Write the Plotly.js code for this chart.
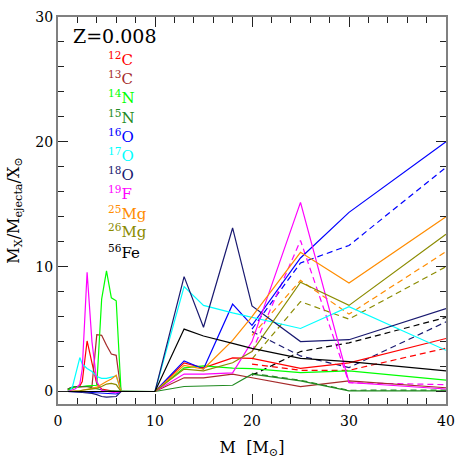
<!DOCTYPE html>
<html>
<head>
<meta charset="utf-8">
<script src="https://cdn.plot.ly/plotly-3.0.1.min.js"></script>
<style>html,body{margin:0;padding:0;background:#fff;}#chart{width:463px;height:463px;}</style>
</head>
<body>
<div id="chart"></div>
<script>
// Initial masses (M_sun)
const massLow  = [1, 1.25, 1.5, 1.75, 2, 2.25, 2.5, 3, 3.5, 4, 4.5, 5, 5.5, 6, 6.5];
const massHigh = [10, 13, 15, 18, 20, 25, 30, 40];
const massHN   = [20, 25, 30, 40];

const isotopes = ['12C','13C','14N','15N','16O','17O','18O','19F','25Mg','26Mg','56Fe'];
const labels = ['<sup>12</sup>C','<sup>13</sup>C','<sup>14</sup>N','<sup>15</sup>N','<sup>16</sup>O','<sup>17</sup>O','<sup>18</sup>O','<sup>19</sup>F','<sup>25</sup>Mg','<sup>26</sup>Mg','<sup>56</sup>Fe'];
const colors = ['#ff0000','#a52a2a','#00ff00','#228b22','#0000ff','#00ffff','#191970','#ff00ff','#ff8c00','#8b8b00','#000000'];

// low-mass (AGB) values
const c12Low  = [0.1, 0.25, 0.3, 0.35, 0.4, 0.45, 0.8, 4.05, 2.3, 0.6, 0.2, 0.1, 0.05, 0.0, 0];
const c13Low  = [0.2, 0.3, 0.35, 0.35, 0.35, 0.35, 0.35, 0.35, 0.4, 4.55, 4.5, 3.7, 3.0, 2.9, 0];
const n14Low  = [0.1, 0.2, 0.3, 0.35, 0.35, 0.4, 0.4, 0.45, 0.5, 0.5, 7.4, 9.67, 7.5, 7.27, 0];
const n15Low  = [0.2, 0.3, 0.35, 0.4, 0.4, 0.4, 0.4, 0.4, 0.3, 0.2, 0.1, 0.05, 0.05, 0.05, 0];
const o16Low  = [0, 0, -0.02, -0.03, -0.05, -0.05, -0.05, -0.05, -0.08, -0.1, -0.15, -0.15, -0.2, -0.2, 0];
const o17Low  = [0, 0.1, 0.4, 1.1, 2.0, 2.72, 2.2, 1.85, 1.6, 1.2, 1.05, 1.05, 1.15, 1.25, 0];
const o18Low  = [0, 0, -0.02, -0.03, -0.05, -0.05, -0.08, -0.1, -0.15, -0.25, -0.4, -0.45, -0.45, -0.4, 0];
const f19Low  = [0, 0.05, 0.1, 0.2, 0.35, 0.6, 1.8, 9.55, 4.0, 0.8, 0.1, 0.0, -0.05, -0.1, 0];
const mg25Low = [0, 0, 0, 0, 0, 0.05, 0.1, 0.15, 0.25, 0.35, 0.6, 0.8, 1.0, 1.3, 0];
const mg26Low = [0, 0, 0, 0, 0, 0.05, 0.1, 0.15, 0.2, 0.25, 0.4, 0.6, 0.65, 0.55, 0];
const fe56Low = [0, 0, 0, 0, 0, 0, 0, 0, 0, 0, 0, 0, 0, 0, 0];

// massive stars (SNe II)
const c12High  = [0, 2.3, 1.9, 2.7, 2.65, 1.85, 2.3, 4.25];
const c13High  = [0, 1.1, 1.1, 1.4, 1.1, 0.4, 0.85, 0.3];
const n14High  = [0, 1.9, 2.05, 1.88, 1.84, 1.52, 1.65, 0.92];
const n15High  = [0, 0.4, 0.45, 0.5, 1.39, 0.85, 0.05, 0.05];
const o16High  = [0, 2.45, 1.8, 7.0, 5.3, 10.7, 14.35, 20.0];
const o17High  = [0, 8.4, 6.9, 6.3, 5.95, 5.05, 6.8, 3.3];
const o18High  = [0, 9.2, 5.15, 13.1, 6.85, 4.0, 4.15, 6.65];
const f19High  = [0, 1.4, 1.4, 1.5, 4.0, 15.15, 0.72, 0.2];
const mg25High = [0, 2.1, 1.8, 4.1, 6.0, 11.15, 8.7, 14.0];
const mg26High = [0, 1.8, 1.65, 2.3, 3.2, 8.75, 6.9, 12.6];
const fe56High = [0, 5.0, 4.45, 3.85, 3.45, 2.65, 2.4, 1.65];

// hypernovae (dashed)
const c12HN  = [2.2, 1.7, 1.7, 3.47];
const n15HN  = [1.45, 0.9, 0.1, 0.12];
const o16HN  = [5.0, 10.3, 11.7, 17.96];
const o18HN  = [4.8, 2.85, 1.92, 5.58];
const f19HN  = [3.2, 12.1, 0.7, 0.55];
const mg25HN = [4.5, 8.9, 6.2, 11.2];
const mg26HN = [2.6, 7.2, 5.8, 10.0];
const fe56HN = [1.3, 3.2, 3.9, 5.93];

const lowSets  = [c12Low, c13Low, n14Low, n15Low, o16Low, o17Low, o18Low, f19Low, mg25Low, mg26Low, fe56Low];
const highSets = [c12High, c13High, n14High, n15High, o16High, o17High, o18High, f19High, mg25High, mg26High, fe56High];
const hnSets = {'12C': c12HN, '15N': n15HN, '16O': o16HN, '18O': o18HN, '19F': f19HN, '25Mg': mg25HN, '26Mg': mg26HN, '56Fe': fe56HN};

const traces = [];
isotopes.forEach((iso, i) => {
  if (hnSets[iso]) {
    traces.push({x: massHN, y: hnSets[iso], mode: 'lines', type: 'scatter',
      line: {color: colors[i], width: 1.2, dash: '6px,4px'}, hoverinfo: 'skip'});
  }
});
isotopes.forEach((iso, i) => {
  traces.push({x: massLow.concat(massHigh), y: lowSets[i].concat(highSets[i]), mode: 'lines', type: 'scatter',
    line: {color: colors[i], width: 1.2}, hoverinfo: 'skip'});
});

const FONT = 'DejaVu Serif';
const plotTop = 17.5, plotBot = 404;
function paperY(px) { return 1 - (px - plotTop) / (plotBot - plotTop); }

const labelY = [59, 78, 97.5, 117, 136, 155, 174.5, 193, 213, 231.5, 252];
const annotations = labels.map((t, i) => ({
  text: t, xref: 'paper', yref: 'paper', x: (106 - 58.3) / 387.7, y: paperY(labelY[i]),
  xanchor: 'left', yanchor: 'middle', showarrow: false,
  font: {family: FONT, size: 15, color: colors[i]}
}));
annotations.push({text: 'Z=0.008', xref: 'paper', yref: 'paper', x: (71 - 58.3) / 387.7, y: paperY(36),
  xanchor: 'left', yanchor: 'middle', showarrow: false, font: {family: FONT, size: 19, color: '#000'}});

const axisCommon = {
  showgrid: false, zeroline: false, showline: true, linecolor: '#808080', linewidth: 2,
  mirror: 'ticks', ticks: 'inside', ticklen: 10, tickwidth: 1, tickcolor: '#222',
  minor: {ticks: 'inside', ticklen: 6, tickwidth: 1, tickcolor: '#222', dtick: 2, tick0: 0},
  tickfont: {family: FONT, size: 14, color: '#000'}
};

const layout = {
  width: 463, height: 463,
  margin: {l: 58, r: 17, t: 17, b: 59},
  paper_bgcolor: '#fff', plot_bgcolor: '#fff',
  showlegend: false,
  xaxis: Object.assign({}, axisCommon, {range: [0, 40], tick0: 0, dtick: 10, ticklabelstandoff: 3,
    title: {text: 'M  [M<sub>⊙</sub>]', font: {family: FONT, size: 16, color: '#000'}, standoff: 14}}),
  yaxis: Object.assign({}, axisCommon, {range: [-1, 30], tick0: 0, dtick: 10,
    title: {text: 'M<sub>X</sub>/M<sub>ejecta</sub>/X<sub>⊙</sub>', font: {family: FONT, size: 16, color: '#000'}, standoff: 12}}),
  annotations: annotations
};

Plotly.newPlot('chart', traces, layout, {staticPlot: true, displayModeBar: false});
</script>
</body>
</html>
